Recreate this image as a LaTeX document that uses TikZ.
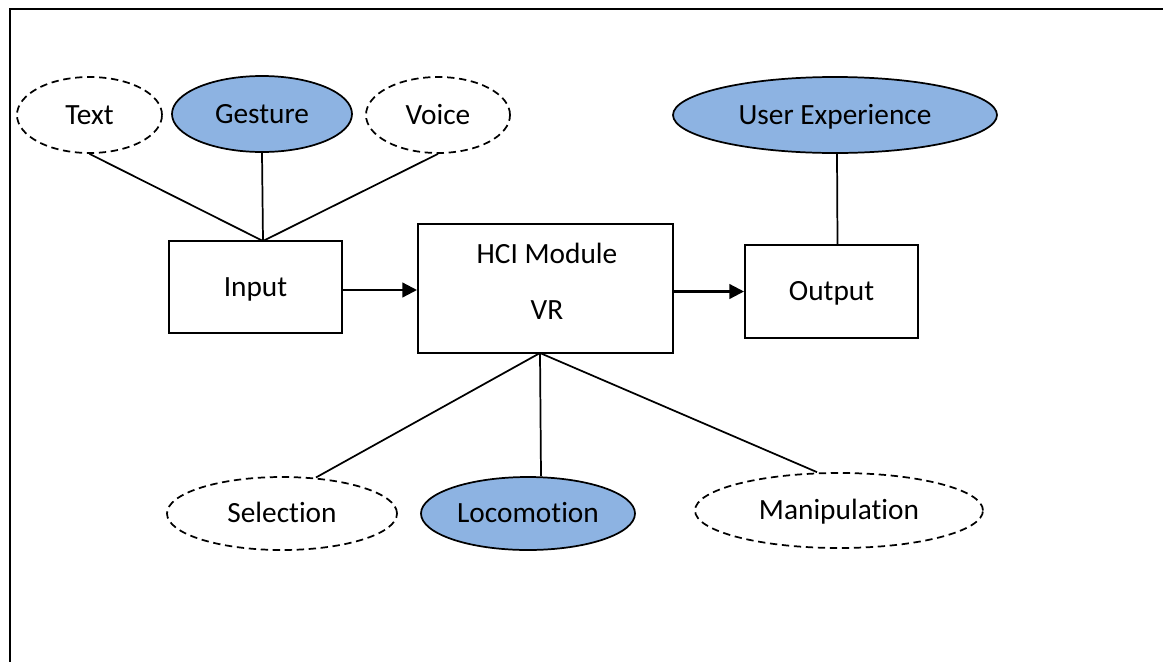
\documentclass[tikz,border=0pt]{standalone}
\usepackage{fontspec}
\setmainfont{Carlito}[Ligatures=NoCommon]
\usetikzlibrary{shapes.geometric,arrows.meta}
\definecolor{ovalblue}{HTML}{8DB3E2}
\begin{document}
\begin{tikzpicture}[x=0.75pt,y=-0.75pt,
  every node/.style={font=\fontsize{22}{26}\selectfont, text height=14.2pt, text depth=0pt, inner sep=0pt},
  oval/.style={ellipse, draw, line width=1.3pt},
  dashoval/.style={oval, dash pattern=on 5.5pt off 3.5pt},
  filloval/.style={oval, fill=ovalblue},
  box/.style={rectangle, draw, line width=1.5pt},
  link/.style={line width=1.3pt},
  flow/.style={line width=1.7pt, -{Triangle[length=11pt,width=11pt]}}]
\useasboundingbox (0,0) rectangle (1163,661);
\fill[white] (0,0) rectangle (1163,661);
% frame
\draw[line width=1.7pt] (10,670) -- (10,9) -- (1170,9);

% input side ovals
\node[dashoval, minimum width=108.75pt, minimum height=57pt] (txt) at (89.5,115) {Text};
\node[filloval, minimum width=135pt, minimum height=57pt] (ges) at (262,114) {Gesture};
\node[dashoval, minimum width=108pt, minimum height=57pt] (voi) at (438,115) {Voice};
\node[filloval, minimum width=243pt, minimum height=57pt] (ux) at (835,115) {User Experience};

% boxes
\node[box, minimum width=129.75pt, minimum height=69pt] (inp) at (255.5,287) {Input};
\node[box, minimum width=191.25pt, minimum height=96.75pt] (hci) at (545.5,288.5) {};
\node[anchor=base] (hcit) at (547,263) {HCI Module};
\node[anchor=base] (vrt) at (547,319) {VR};
\node[box, minimum width=129.75pt, minimum height=69.75pt] (out) at (831.5,291.5) {Output};

% bottom ovals
\node[dashoval, minimum width=172.5pt, minimum height=54.75pt] (sel) at (282,513.5) {Selection};
\node[filloval, minimum width=160.5pt, minimum height=54.75pt] (loc) at (528,513.5) {Locomotion};
\node[dashoval, minimum width=216pt, minimum height=56.25pt] (man) at (839,510.5) {Manipulation};

% junctions
\coordinate (inJ) at (263,241);
\coordinate (hciJ) at (540,353);

% links
\draw[link] (txt.south) -- (inJ);
\draw[link] (ges.south) -- (inJ);
\draw[link] (voi.south) -- (inJ);
\draw[link] ([xshift=1.5pt]ux.south) -- ([xshift=4.5pt]out.north);
\draw[link] (hciJ) -- ([xshift=25.5pt,yshift=-1pt]sel.north);
\draw[link] (hciJ) -- ([xshift=9.75pt]loc.north);
\draw[link] (hciJ) -- ([xshift=-16.5pt]man.north);

% flow arrows
\draw[flow] ([yshift=-2.25pt]inp.east) -- ([yshift=-2.25pt]inp.east -| hci.west);
\draw[flow] (hci.east |- out.west) -- (out.west);
\end{tikzpicture}
\end{document}
